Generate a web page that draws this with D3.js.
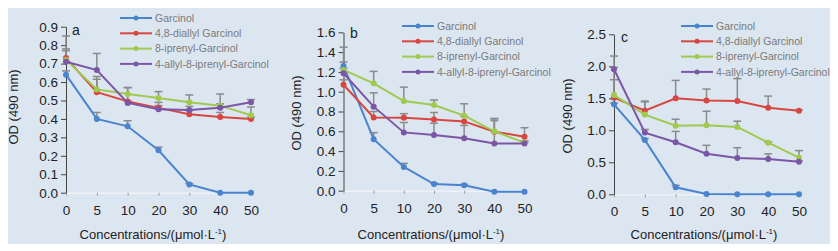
<!DOCTYPE html>
<html>
<head>
<meta charset="utf-8">
<script src="https://cdn.jsdelivr.net/npm/d3@7"></script>
<style>
  body { margin: 0; background: #fff; }
  svg { display: block; }
  .tick text { font-family: "Liberation Sans", Arial, sans-serif; font-size: 13.5px; fill: #222; }
  .legend-text { font-family: "Liberation Sans", Arial, sans-serif; font-size: 10.5px; }
</style>
</head>
<body>
<svg width="838" height="251"></svg>
<script>
// categories on the x axis (μmol/L)
var concentrations = ["0", "5", "10", "20", "30", "40", "50"];
var seriesNames = ["Garcinol", "4,8-diallyl Garcinol", "8-iprenyl-Garcinol", "4-allyl-8-iprenyl-Garcinol"];
var seriesColours = ["#4a84cf", "#d8463f", "#9fca4e", "#7b56a6"];

// panel a
var aGarcinol  = [0.64, 0.40, 0.36, 0.23, 0.045, 0.0, 0.0];
var aDiallyl   = [0.73, 0.545, 0.495, 0.46, 0.425, 0.41, 0.40];
var aIprenyl   = [0.72, 0.56, 0.535, 0.513, 0.49, 0.472, 0.42];
var aAllyl     = [0.71, 0.665, 0.487, 0.452, 0.448, 0.46, 0.49];
var aGarcinolErr = [0.02, 0.035, 0.03, 0.017, 0.005, 0, 0];
var aDiallylErr  = [0.05, 0.07, 0.075, 0.03, 0.02, 0.025, 0.01];
var aIprenylErr  = [0.13, 0.07, 0.035, 0.035, 0.04, 0.01, 0.045];
var aAllylErr    = [0.06, 0.09, 0.01, 0.02, 0.02, 0.075, 0.015];
var aTicks = [0, 0.1, 0.2, 0.3, 0.4, 0.5, 0.6, 0.7, 0.8, 0.9];

// panel b
var bGarcinol  = [1.26, 0.52, 0.24, 0.067, 0.054, -0.01, -0.01];
var bDiallyl   = [1.07, 0.74, 0.738, 0.72, 0.70, 0.596, 0.546];
var bIprenyl   = [1.22, 1.085, 0.906, 0.866, 0.758, 0.60, 0.485];
var bAllyl     = [1.186, 0.849, 0.589, 0.562, 0.529, 0.478, 0.478];
var bGarcinolErr = [0.19, 0.066, 0.036, 0.01, 0.01, 0, 0];
var bDiallylErr  = [0.05, 0.06, 0.04, 0.07, 0.05, 0.13, 0.09];
var bIprenylErr  = [0.08, 0.12, 0.14, 0.05, 0.12, 0.13, 0.02];
var bAllylErr    = [0.05, 0.14, 0.10, 0.12, 0.13, 0.23, 0.01];
var bTicks = [0, 0.2, 0.4, 0.6, 0.8, 1.0, 1.2, 1.4, 1.6];

// panel c
var cGarcinol  = [1.406, 0.85, 0.11, 0.005, 0.0, 0.0, 0.0];
var cDiallyl   = [1.51, 1.307, 1.50, 1.464, 1.458, 1.354, 1.307];
var cIprenyl   = [1.55, 1.245, 1.073, 1.078, 1.052, 0.807, 0.573];
var cAllyl     = [1.953, 0.964, 0.8125, 0.635, 0.568, 0.552, 0.51];
var cGarcinolErr = [0.02, 0.02, 0.03, 0, 0, 0, 0];
var cDiallylErr  = [0.65, 0.15, 0.28, 0.18, 0.35, 0.18, 0.01];
var cIprenylErr  = [0.24, 0.20, 0.10, 0.22, 0.09, 0.01, 0.11];
var cAllylErr    = [0.03, 0.05, 0.17, 0.13, 0.16, 0.08, 0.01];
var cTicks = [0, 0.5, 1.0, 1.5, 2.0, 2.5];

var svg = d3.select("svg");

// light blue backdrop of the figure
svg.append("rect")
    .attr("x", 8).attr("y", 8)
    .attr("width", 822).attr("height", 236)
    .attr("fill", "#dce6f1");

var panels = [
    { label: "a", x0: 66, x1: 251, y0: 192.7, y1: 26.7, max: 0.9, ticks: aTicks, fmt: ".1f",
      values: [aGarcinol, aDiallyl, aIprenyl, aAllyl], errors: [aGarcinolErr, aDiallylErr, aIprenylErr, aAllylErr],
      labelX: 72, labelY: 35, legendX: 120, legendY: 18, titleX: 13, titleY: 107, xTitleX: 153 },
    { label: "b", x0: 343.5, x1: 524.5, y0: 190.7, y1: 32.3, max: 1.6, ticks: bTicks, fmt: ".1f",
      values: [bGarcinol, bDiallyl, bIprenyl, bAllyl], errors: [bGarcinolErr, bDiallylErr, bIprenylErr, bAllylErr],
      labelX: 350, labelY: 38, legendX: 402, legendY: 26, titleX: 296, titleY: 113, xTitleX: 431 },
    { label: "c", x0: 614, x1: 799, y0: 194.3, y1: 34.3, max: 2.5, ticks: cTicks, fmt: ".1f",
      values: [cGarcinol, cDiallyl, cIprenyl, cAllyl], errors: [cGarcinolErr, cDiallylErr, cIprenylErr, cAllylErr],
      labelX: 621, labelY: 42, legendX: 681, legendY: 26, titleX: 567, titleY: 116, xTitleX: 704 }
];

panels.forEach(function (p) {
    var g = svg.append("g");

    var x = d3.scalePoint().domain(concentrations).range([p.x0, p.x1]);
    var y = d3.scaleLinear().domain([0, p.max]).range([p.y0, p.y1]);

    // x axis: pale line, small grey ticks
    var xAxis = g.append("g")
        .attr("transform", "translate(0," + p.y0 + ")")
        .call(d3.axisBottom(x).tickSize(3).tickPadding(7));
    xAxis.select(".domain").attr("stroke", "#eef2f7").attr("stroke-width", 1.5);
    xAxis.selectAll(".tick line").attr("stroke", "#999");
    xAxis.selectAll(".tick text").attr("dy", "0.9em");

    // y axis
    var yAxis = g.append("g")
        .attr("transform", "translate(" + p.x0 + ",0)")
        .call(d3.axisLeft(y).tickValues(p.ticks).tickFormat(d3.format(p.fmt)).tickSize(5).tickSizeOuter(0).tickPadding(3));
    yAxis.select(".domain").attr("stroke", "#444");
    yAxis.selectAll(".tick line").attr("stroke", "#444");

    // axis titles
    g.append("text")
        .attr("transform", "translate(" + p.titleX + "," + p.titleY + ") rotate(-90)")
        .attr("text-anchor", "middle")
        .attr("dy", "0.35em")
        .style("font-family", "Liberation Sans, Arial, sans-serif")
        .style("font-size", "13px")
        .attr("fill", "#222")
        .text("OD (490 nm)");

    var xt = g.append("text")
        .attr("x", p.xTitleX)
        .attr("y", 239)
        .attr("text-anchor", "middle")
        .style("font-family", "Liberation Sans, Arial, sans-serif")
        .style("font-size", "13px")
        .attr("fill", "#222");
    xt.append("tspan").text("Concentrations/(μmol·L");
    xt.append("tspan").attr("dy", -5).style("font-size", "8px").text("-1");
    xt.append("tspan").attr("dy", 5).text(")");

    // panel letter
    g.append("text")
        .attr("x", p.labelX).attr("y", p.labelY)
        .style("font-family", "Liberation Sans, Arial, sans-serif")
        .style("font-size", "14px")
        .attr("fill", "#222")
        .text(p.label);

    // error bars (upper only)
    p.values.forEach(function (vals, si) {
        var errs = p.errors[si];
        vals.forEach(function (v, i) {
            if (!errs[i]) return;
            var cx = x(concentrations[i]);
            g.append("line")
                .attr("x1", cx).attr("x2", cx)
                .attr("y1", y(v)).attr("y2", y(v + errs[i]))
                .attr("stroke", "#8a8a8a").attr("stroke-width", 1.5);
            g.append("line")
                .attr("x1", cx - 4).attr("x2", cx + 4)
                .attr("y1", y(v + errs[i])).attr("y2", y(v + errs[i]))
                .attr("stroke", "#8a8a8a").attr("stroke-width", 1.5);
        });
    });

    // series lines and markers
    var line = d3.line()
        .x(function (d, i) { return x(concentrations[i]); })
        .y(function (d) { return y(d); });

    p.values.forEach(function (vals, si) {
        g.append("path")
            .datum(vals)
            .attr("fill", "none")
            .attr("stroke", seriesColours[si])
            .attr("stroke-width", 2)
            .attr("d", line);
        g.selectAll(null)
            .data(vals)
            .enter().append("circle")
            .attr("cx", function (d, i) { return x(concentrations[i]); })
            .attr("cy", function (d) { return y(d); })
            .attr("r", 3)
            .attr("fill", seriesColours[si]);
    });

    // legend
    var legend = g.append("g").attr("transform", "translate(" + p.legendX + "," + p.legendY + ")");
    seriesNames.forEach(function (name, si) {
        var row = legend.append("g").attr("transform", "translate(0," + si * 15.3 + ")");
        row.append("line")
            .attr("x1", 0).attr("x2", 32)
            .attr("stroke", seriesColours[si]).attr("stroke-width", 2);
        row.append("circle").attr("cx", 16).attr("r", 2.5).attr("fill", seriesColours[si]);
        row.append("text")
            .attr("class", "legend-text")
            .attr("x", 35)
            .attr("dy", "0.35em")
            .attr("fill", "#7a7a7a")
            .text(name);
    });
});
</script>
</body>
</html>
